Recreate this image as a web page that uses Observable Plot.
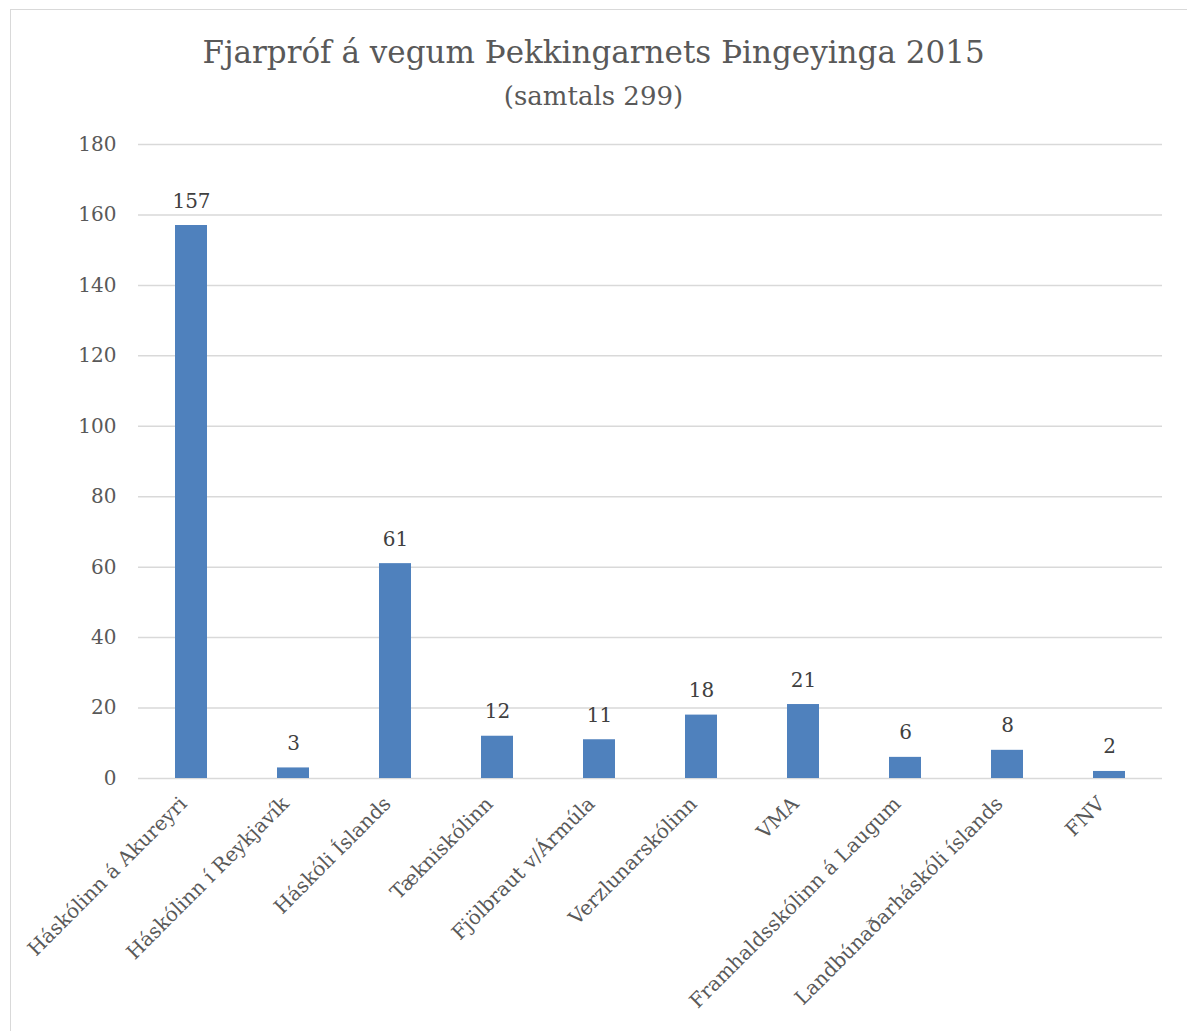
<!DOCTYPE html>
<html>
<head>
<meta charset="utf-8">
<script src="https://cdn.jsdelivr.net/npm/d3@7"></script>
<script src="https://cdn.jsdelivr.net/npm/@observablehq/plot@0.6"></script>
<style>
  html, body { margin: 0; padding: 0; background: #fff; }
  #wrap { position: relative; width: 1187px; height: 1031px; overflow: hidden; background: #fff; }
  #frame { position: absolute; left: 10px; top: 9px; width: 1200px; height: 1100px; border: 1px solid #d9d9d9; box-sizing: border-box; }
  #title { position: absolute; left: 0; width: 1187px; top: 37px; text-align: center; font-family: "DejaVu Serif", serif; font-size: 31px; color: #595959; line-height: 1; }
  #subtitle { position: absolute; left: 0; width: 1187px; top: 83px; text-align: center; font-family: "DejaVu Serif", serif; font-size: 26px; color: #595959; line-height: 1; }
  #chart { position: absolute; left: 0; top: 125px; }
</style>
</head>
<body>
<div id="wrap">
  <div id="frame"></div>
  <div id="title">Fjarpróf á vegum Þekkingarnets Þingeyinga 2015</div>
  <div id="subtitle">(samtals 299)</div>
  <div id="chart"></div>
</div>
<script>
const schools = [
  "Háskólinn á Akureyri",
  "Háskólinn í Reykjavík",
  "Háskóli Íslands",
  "Tækniskólinn",
  "Fjölbraut v/Ármúla",
  "Verzlunarskólinn",
  "VMA",
  "Framhaldsskólinn á Laugum",
  "Landbúnaðarháskóli íslands",
  "FNV"
];
const counts = [157, 3, 61, 12, 11, 18, 21, 6, 8, 2];
const yTicks = [0, 20, 40, 60, 80, 100, 120, 140, 160, 180];

const data = schools.map((s, i) => ({school: s, count: counts[i]}));

const chart = Plot.plot({
  width: 1187,
  height: 906,
  marginTop: 19,
  marginBottom: 253,
  marginLeft: 138,
  marginRight: 25,
  style: {fontFamily: "'DejaVu Serif', serif", fontSize: "18px", color: "#595959", background: "transparent"},
  x: {domain: schools, paddingInner: 0.69, paddingOuter: 0.345, label: null},
  y: {domain: [0, 180], label: null},
  marks: [
    Plot.gridY(yTicks, {stroke: "#d9d9d9", strokeOpacity: 1, strokeWidth: 1.5}),
    Plot.axisY(yTicks, {tickSize: 0, tickPadding: 22, fontSize: 20, fill: "#595959", label: null}),
    Plot.axisX({tickSize: 0, tickRotate: -45, tickPadding: 22, dx: -8, fontSize: 20, fill: "#595959", label: null}),
    Plot.barY(data, {x: "school", y: "count", fill: "#4f81bd"}),
    Plot.text(data, {x: "school", y: "count", text: d => String(d.count), lineAnchor: "bottom", dy: -18, fontSize: 20, fill: "#404040"})
  ]
});
document.getElementById("chart").appendChild(chart);
</script>
</body>
</html>
